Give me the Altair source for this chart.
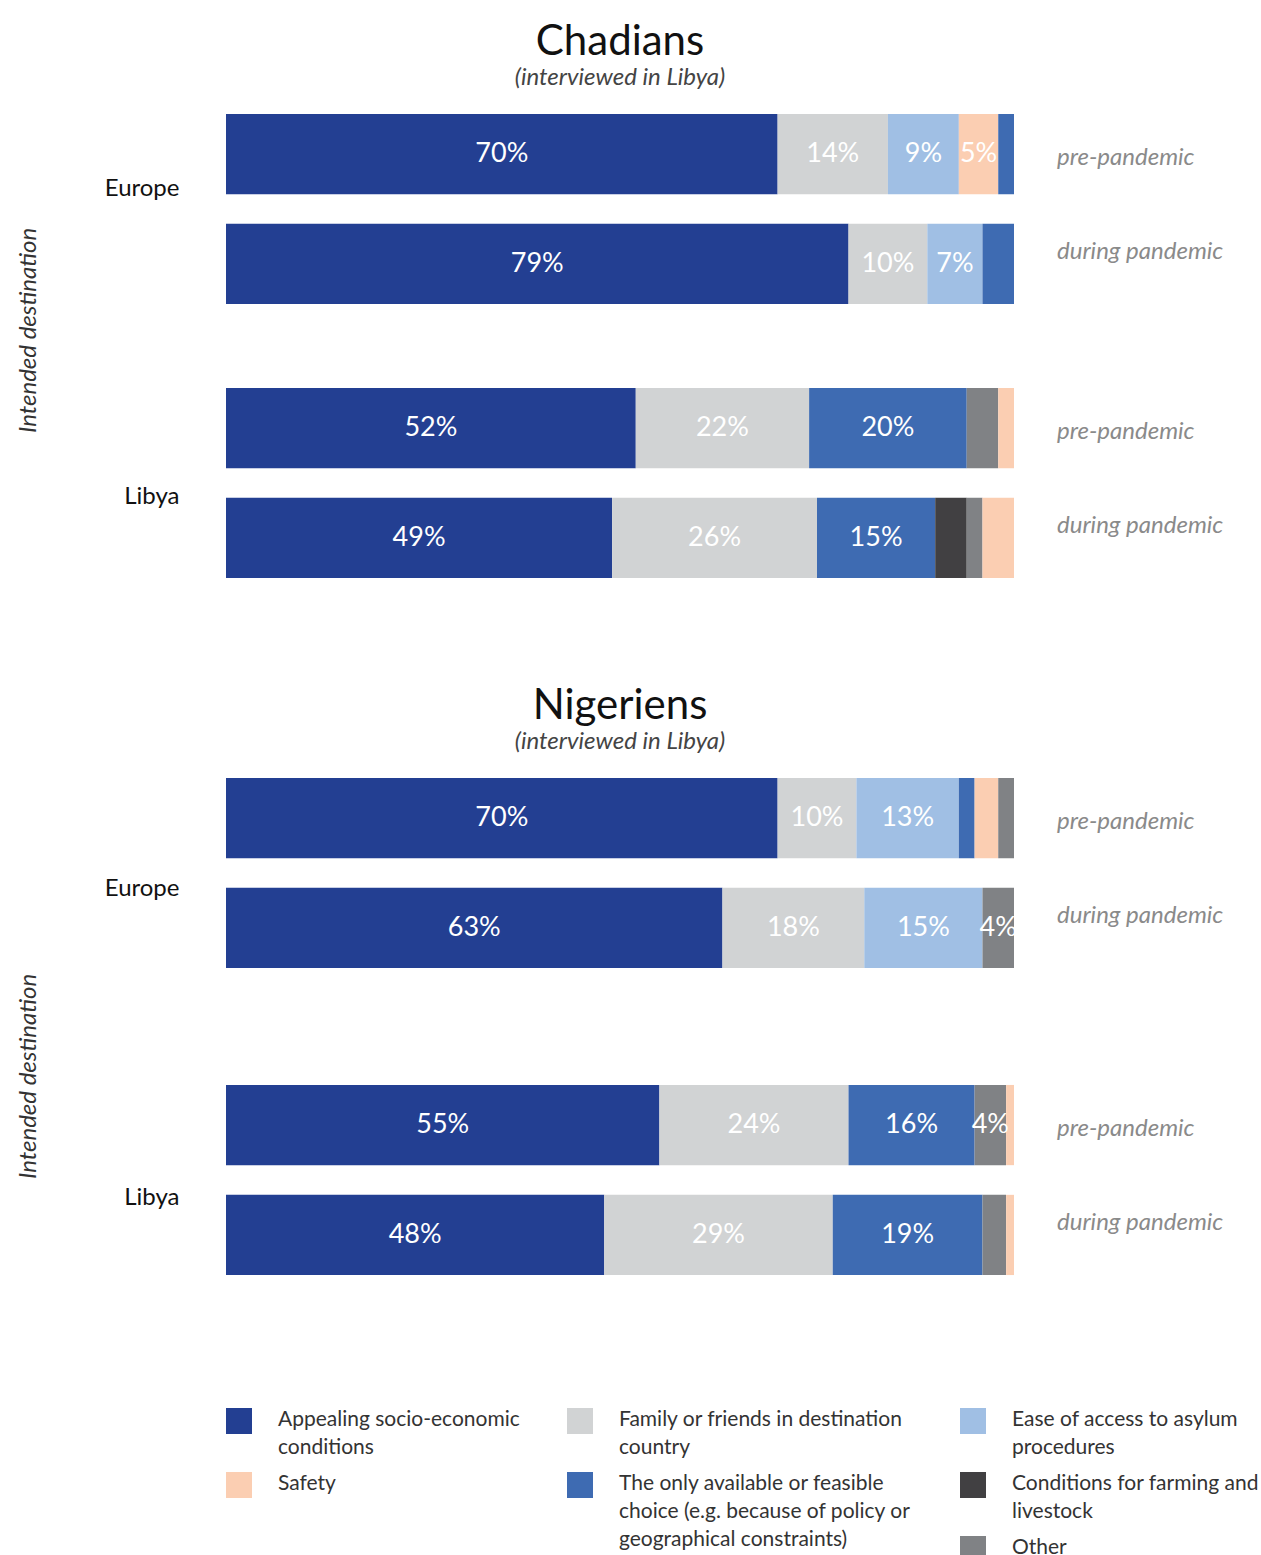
import altair as alt
import pandas as pd

FONT = "Lato"

# ---------------- categories & colours ----------------
codes = ["A", "F", "E", "S", "C", "M", "O"]
categories = [
    "Appealing socio-economic conditions",
    "Family or friends in destination country",
    "Ease of access to asylum procedures",
    "Safety",
    "The only available or feasible choice (e.g. because of policy or geographical constraints)",
    "Conditions for farming and livestock",
    "Other",
]
legend_labels = [
    "Appealing socio-economic\nconditions",
    "Family or friends in destination\ncountry",
    "Ease of access to asylum\nprocedures",
    "Safety",
    "The only available or feasible\nchoice (e.g. because of policy or\ngeographical constraints)",
    "Conditions for farming and\nlivestock",
    "Other",
]
colors = ["#233F92", "#D1D3D4", "#A0BFE4", "#FBCEB2", "#3E6BB2", "#414042", "#808285"]

nationalities = ["Chadians", "Nigeriens"]
destinations = ["Europe", "Libya"]
periods = ["pre-pandemic", "during pandemic"]

# ---------------- Chadians ----------------
chd_eu_pre_cat = ["A", "F", "E", "S", "C"]
chd_eu_pre_val = [70, 14, 9, 5, 2]
chd_eu_pre_show = [1, 1, 1, 1, 0]

chd_eu_dur_cat = ["A", "F", "E", "C"]
chd_eu_dur_val = [79, 10, 7, 4]
chd_eu_dur_show = [1, 1, 1, 0]

chd_ly_pre_cat = ["A", "F", "C", "O", "S"]
chd_ly_pre_val = [52, 22, 20, 4, 2]
chd_ly_pre_show = [1, 1, 1, 0, 0]

chd_ly_dur_cat = ["A", "F", "C", "M", "O", "S"]
chd_ly_dur_val = [49, 26, 15, 4, 2, 4]
chd_ly_dur_show = [1, 1, 1, 0, 0, 0]

# ---------------- Nigeriens ----------------
nig_eu_pre_cat = ["A", "F", "E", "C", "S", "O"]
nig_eu_pre_val = [70, 10, 13, 2, 3, 2]
nig_eu_pre_show = [1, 1, 1, 0, 0, 0]

nig_eu_dur_cat = ["A", "F", "E", "O"]
nig_eu_dur_val = [63, 18, 15, 4]
nig_eu_dur_show = [1, 1, 1, 1]

nig_ly_pre_cat = ["A", "F", "C", "O", "S"]
nig_ly_pre_val = [55, 24, 16, 4, 1]
nig_ly_pre_show = [1, 1, 1, 1, 0]

nig_ly_dur_cat = ["A", "F", "C", "O", "S"]
nig_ly_dur_val = [48, 29, 19, 3, 1]
nig_ly_dur_show = [1, 1, 1, 0, 0]

bars = [
    ("Chadians", "Europe", "pre-pandemic", chd_eu_pre_cat, chd_eu_pre_val, chd_eu_pre_show),
    ("Chadians", "Europe", "during pandemic", chd_eu_dur_cat, chd_eu_dur_val, chd_eu_dur_show),
    ("Chadians", "Libya", "pre-pandemic", chd_ly_pre_cat, chd_ly_pre_val, chd_ly_pre_show),
    ("Chadians", "Libya", "during pandemic", chd_ly_dur_cat, chd_ly_dur_val, chd_ly_dur_show),
    ("Nigeriens", "Europe", "pre-pandemic", nig_eu_pre_cat, nig_eu_pre_val, nig_eu_pre_show),
    ("Nigeriens", "Europe", "during pandemic", nig_eu_dur_cat, nig_eu_dur_val, nig_eu_dur_show),
    ("Nigeriens", "Libya", "pre-pandemic", nig_ly_pre_cat, nig_ly_pre_val, nig_ly_pre_show),
    ("Nigeriens", "Libya", "during pandemic", nig_ly_dur_cat, nig_ly_dur_val, nig_ly_dur_show),
]

code_to_cat = dict(zip(codes, categories))
rows = []
for nat, dest, per, cats, vals, shows in bars:
    for i, (c, v, s) in enumerate(zip(cats, vals, shows)):
        rows.append({"nat": nat, "dest": dest, "period": per, "cat": code_to_cat[c],
                     "value": v, "show": s, "ord": i})
df = pd.DataFrame(rows)

color_scale = alt.Scale(domain=categories, range=colors)
x_scale = alt.Scale(domain=[0, 100])


def panel(nat, subtitle, group_h, gap, eu_off, ly_off, title_y):
    sub = df[df["nat"] == nat]
    height = 2 * group_h + gap
    pin = gap / (group_h + gap)
    y_enc = alt.Y(
        "dest:N", sort=destinations, title="Intended destination",
        scale=alt.Scale(paddingInner=pin, paddingOuter=0),
        axis=alt.Axis(domain=False, ticks=False, labelPadding=47, labelFont=FONT,
                      labelFontSize=24, labelColor="#111111",
                      labelOffset={"condition": {"test": "datum.value == 'Europe'", "value": eu_off},
                                   "value": ly_off},
                      titleFont=FONT, titleFontSize=24, titleFontStyle="italic",
                      titleFontWeight="normal", titleColor="#333333", titlePadding=64,
                      titleY=title_y),
    )
    yo_enc = alt.YOffset("period:N", sort=periods,
                         scale=alt.Scale(paddingInner=0.27, paddingOuter=0.136))
    base = alt.Chart(sub).transform_window(
        cum="sum(value)", groupby=["dest", "period"], sort=[alt.SortField("ord")],
        frame=[None, 0]
    ).transform_calculate(
        start="datum.cum - datum.value",
        mid="datum.cum - datum.value / 2",
        label="datum.show == 1 ? datum.value + '%' : ''",
    ).encode(y=y_enc, yOffset=yo_enc)

    bar = base.mark_bar().encode(
        x=alt.X("start:Q", scale=x_scale, axis=None),
        x2="cum:Q",
        color=alt.Color("cat:N", scale=color_scale, legend=None),
    )
    txt = base.mark_text(color="white", font=FONT, fontSize=27, baseline="middle").encode(
        x=alt.X("mid:Q", scale=x_scale, axis=None),
        text="label:N",
    )
    per_pre = base.transform_filter("datum.ord == 0 && datum.period == 'pre-pandemic'").mark_text(
        align="left", baseline="middle", dx=43, dy=4, font=FONT, fontSize=24,
        fontStyle="italic", color="#8A8A8A"
    ).encode(x=alt.datum(100), text="period:N")
    per_dur = base.transform_filter("datum.ord == 0 && datum.period == 'during pandemic'").mark_text(
        align="left", baseline="middle", dx=43, dy=-12, font=FONT, fontSize=24,
        fontStyle="italic", color="#8A8A8A"
    ).encode(x=alt.datum(100), text="period:N")

    return alt.layer(bar, txt, per_pre, per_dur).properties(
        width=788, height=height,
        title=alt.TitleParams(text=nat, subtitle=subtitle, font=FONT, fontSize=42,
                              fontWeight="normal", color="#111111", subtitleFont=FONT,
                              subtitleFontSize=24, subtitleFontStyle="italic",
                              subtitleColor="#444444", anchor="middle", offset=8,
                              subtitlePadding=2),
    )


chad = panel("Chadians", "(interviewed in Libya)", 220, 54, -20, 14, 231)
nig = panel("Nigeriens", "(interviewed in Libya)", 222, 85, 15, 17, 313)

# ---------------- custom legend ----------------
leg_df = pd.DataFrame({"cat": categories, "lab": legend_labels})
legend_cols = [
    [categories[0], categories[3]],
    [categories[1], categories[4]],
    [categories[2], categories[5], categories[6]],
]
col_widths = [341, 393, 285]


def legend_col(cats, w):
    base = alt.Chart(leg_df).transform_filter(
        alt.FieldOneOfPredicate(field="cat", oneOf=cats)
    ).encode(
        y=alt.Y("cat:N", sort=cats, axis=None,
                scale=alt.Scale(domain=cats, paddingInner=0, paddingOuter=0)),
    )
    sq = base.mark_square(size=676, opacity=1).encode(
        x=alt.value(13),
        color=alt.Color("cat:N", scale=color_scale, legend=None),
    )
    tx = base.mark_text(align="left", baseline="top", dy=-12, font=FONT, fontSize=21,
                        color="#333333", lineBreak="\n", lineHeight=28).encode(
        x=alt.value(52),
        text="lab:N",
    )
    return alt.layer(sq, tx).properties(width=w, height=64 * len(cats))


legend = alt.hconcat(*[legend_col(c, w) for c, w in zip(legend_cols, col_widths)], spacing=0)

charts = alt.vconcat(chad, nig, spacing=92)
chart = alt.vconcat(charts, legend, spacing=97).properties(
    padding={"left": 16, "top": 21, "right": 0, "bottom": 0}
).configure(font=FONT).configure_view(stroke=None)

chart.save("out.html", embed_options={"renderer": "svg", "actions": False})
